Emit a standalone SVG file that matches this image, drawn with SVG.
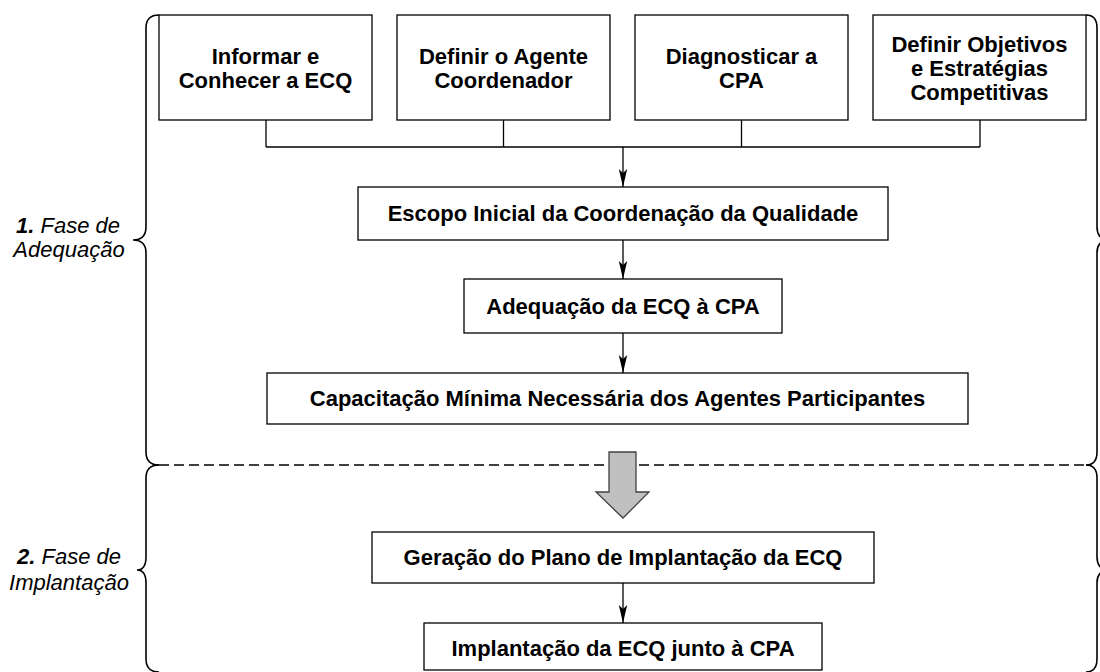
<svg xmlns="http://www.w3.org/2000/svg" width="1100" height="672" viewBox="0 0 1100 672">
<style>
.box{fill:#fff;stroke:#000;stroke-width:1.3}
.t{font-family:"Liberation Sans",Arial,sans-serif;font-size:22px;font-weight:bold;text-anchor:middle;fill:#000}
.lab{font-family:"Liberation Sans",Arial,sans-serif;font-size:22px;font-style:italic;text-anchor:middle;fill:#000}
.ln{fill:none;stroke:#000;stroke-width:1.3}
.br{fill:none;stroke:#000;stroke-width:1.6}
</style>
<defs>
<marker id="ah" markerUnits="userSpaceOnUse" markerWidth="20" markerHeight="12" viewBox="-19 -6 20 12" refX="0" refY="0" orient="auto">
<path d="M0,0 L-18,-4.2 L-14,0 L-18,4.2 Z" fill="#000"/>
</marker>
</defs>
<g id="phases">
<path class="br" d="M159,15 Q146,15 146,28 V227 Q146,240 133,240 Q146,240 146,253 V452 Q146,465 159,465"/>
<path class="br" d="M159,465 Q146,465 146,478 V557 Q146,570 137,570 Q146,570 146,583 V659 Q146,672 159,672"/>
<path class="br" d="M1086,15 Q1097,15 1097,28 V227 Q1097,240 1110,240 Q1097,240 1097,253 V452 Q1097,465 1086,465"/>
<path class="br" d="M1086,465 Q1097,465 1097,478 V557 Q1097,570 1110,570 Q1097,570 1097,583 V659 Q1097,672 1086,672"/>
<line x1="159" y1="465" x2="1086" y2="465" stroke="#000" stroke-width="1.3" stroke-dasharray="10 5"/>
<text class="lab" x="68" y="233"><tspan font-weight="bold">1.</tspan> Fase de</text>
<text class="lab" x="69" y="257">Adequação</text>
<text class="lab" x="69" y="564"><tspan font-weight="bold">2.</tspan> Fase de</text>
<text class="lab" x="69" y="590">Implantação</text>
</g>
<g id="connectors">
<path class="ln" d="M266,120 V147 M503.5,120 V147 M741.5,120 V147 M980,120 V147 M266,147 H980"/>
<line class="ln" x1="623" y1="147" x2="623" y2="187" marker-end="url(#ah)"/>
<line class="ln" x1="623" y1="240" x2="623" y2="279" marker-end="url(#ah)"/>
<line class="ln" x1="623" y1="333" x2="623" y2="373" marker-end="url(#ah)"/>
<line class="ln" x1="623" y1="583" x2="623" y2="623" marker-end="url(#ah)"/>
<polygon points="609,452 636,452 636,492 649,492 623,518 596,492 609,492" fill="#c0c0c0" stroke="#404040" stroke-width="1.3"/>
</g>
<g id="n1">
<rect class="box" x="159" y="15" width="213" height="105"/>
<text class="t" x="265.5" y="63.5">Informar e</text>
<text class="t" x="265.5" y="87.5">Conhecer a ECQ</text>
</g>
<g id="n2">
<rect class="box" x="397" y="15" width="213" height="105"/>
<text class="t" x="503.5" y="63.5">Definir o Agente</text>
<text class="t" x="503.5" y="87.5">Coordenador</text>
</g>
<g id="n3">
<rect class="box" x="635" y="15" width="213" height="105"/>
<text class="t" x="741.5" y="63.5">Diagnosticar a</text>
<text class="t" x="741.5" y="87.5">CPA</text>
</g>
<g id="n4">
<rect class="box" x="873" y="15" width="213" height="105"/>
<text class="t" x="979.5" y="51.5">Definir Objetivos</text>
<text class="t" x="979.5" y="75.5">e Estratégias</text>
<text class="t" x="979.5" y="99.5">Competitivas</text>
</g>
<g id="n5">
<rect class="box" x="358" y="187" width="530" height="53"/>
<text class="t" x="623" y="221">Escopo Inicial da Coordenação da Qualidade</text>
</g>
<g id="n6">
<rect class="box" x="464" y="279" width="318" height="54"/>
<text class="t" x="623" y="314">Adequação da ECQ à CPA</text>
</g>
<g id="n7">
<rect class="box" x="267" y="373" width="701" height="51"/>
<text class="t" x="617.5" y="406">Capacitação Mínima Necessária dos Agentes Participantes</text>
</g>
<g id="n8">
<rect class="box" x="372" y="532" width="502" height="51"/>
<text class="t" x="623" y="565">Geração do Plano de Implantação da ECQ</text>
</g>
<g id="n9">
<rect class="box" x="424" y="623" width="398" height="47"/>
<text class="t" x="623" y="656">Implantação da ECQ junto à CPA</text>
</g>
</svg>
